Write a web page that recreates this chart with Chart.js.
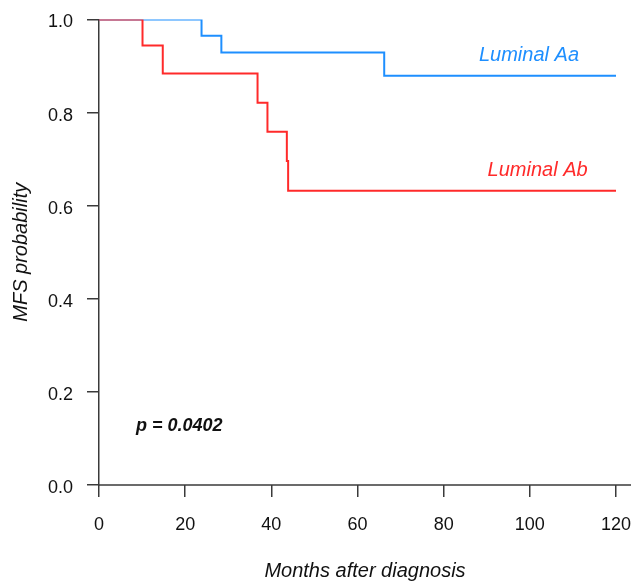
<!DOCTYPE html>
<html>
<head>
<meta charset="utf-8">
<script src="https://cdn.jsdelivr.net/npm/chart.js@4/dist/chart.umd.min.js"></script>
<style>
  html, body { margin: 0; padding: 0; background: #ffffff; }
  #c { display: block; }
</style>
</head>
<body>
<canvas id="c" width="631" height="581"></canvas>
<script>
const aaMonths = [0, 23.8, 28.4, 66.2, 120];
const aaSurvival = [1.0, 0.965, 0.929, 0.879, 0.879];

const abMonths = [0, 10.1, 14.8, 36.8, 39.1, 43.6, 43.9, 120];
const abSurvival = [1.0, 0.944, 0.884, 0.821, 0.759, 0.696, 0.632, 0.632];

const xTicks = [0, 20, 40, 60, 80, 100, 120];
const yTicks = [0.0, 0.2, 0.4, 0.6, 0.8, 1.0];

const seriesNames = ['Luminal Aa', 'Luminal Ab'];
const xTitle = 'Months after diagnosis';
const yTitle = 'MFS probability';
const pValueText = 'p = 0.0402';

// ---- Styles ----
const FONT = '"Liberation Sans", Arial, Helvetica, sans-serif';
const BLUE = '#1E8FFF';
const RED = '#FF2A2A';
const AXIS = '#3a3a3a';

const toPoints = (xs, ys) => xs.map((x, i) => ({ x: x, y: ys[i] }));

const annotate = {
  id: 'annotate',
  afterDatasetsDraw(chart) {
    const { ctx } = chart;
    const xs = chart.scales.x, ys = chart.scales.y;
    ctx.save();
    // extended x axis line
    ctx.strokeStyle = AXIS;
    ctx.lineWidth = 1.5;
    ctx.beginPath();
    const y0 = ys.getPixelForValue(0);
    ctx.moveTo(xs.getPixelForValue(0), y0);
    ctx.lineTo(chart.width, y0);
    ctx.stroke();

    // series labels
    ctx.font = 'italic 20px ' + FONT;
    ctx.textAlign = 'center';
    ctx.textBaseline = 'alphabetic';
    ctx.fillStyle = BLUE;
    ctx.fillText(seriesNames[0], xs.getPixelForValue(99.8), ys.getPixelForValue(0.911));
    ctx.fillStyle = RED;
    ctx.fillText(seriesNames[1], xs.getPixelForValue(101.8), ys.getPixelForValue(0.664));

    // p-value
    ctx.font = 'italic bold 18px ' + FONT;
    ctx.textAlign = 'left';
    ctx.fillStyle = '#111111';
    ctx.fillText(pValueText, xs.getPixelForValue(8.6), ys.getPixelForValue(0.117));

    // x axis title
    ctx.font = 'italic 20px ' + FONT;
    ctx.textAlign = 'center';
    ctx.fillStyle = '#111111';
    ctx.fillText(xTitle, 365, 577);
    ctx.restore();
  }
};

new Chart(document.getElementById('c'), {
  type: 'line',
  data: {
    datasets: [
      {
        label: seriesNames[1],
        data: toPoints(abMonths, abSurvival),
        borderColor: RED,
        borderWidth: 2,
        stepped: 'before',
        pointRadius: 0,
        fill: false
      },
      {
        label: seriesNames[0],
        data: toPoints(aaMonths, aaSurvival),
        borderColor: BLUE,
        borderWidth: 2,
        stepped: 'before',
        pointRadius: 0,
        fill: false
      }
    ]
  },
  options: {
    responsive: false,
    animation: false,
    layout: { padding: { top: 19.5, right: 15, bottom: 0, left: 0 } },
    plugins: {
      legend: { display: false },
      tooltip: { enabled: false },
      title: { display: false }
    },
    scales: {
      x: {
        type: 'linear',
        min: 0,
        max: 120,
        afterBuildTicks: (s) => { s.ticks = xTicks.map(v => ({ value: v })); },
        afterFit: (s) => {
          s.height = 96;
          s.paddingLeft = 0; s.paddingRight = 0;
        },
        border: { display: false },
        grid: {
          drawOnChartArea: false,
          drawTicks: true,
          tickLength: 12,
          color: AXIS,
          lineWidth: 1.5
        },
        ticks: {
          color: '#111111',
          font: { family: FONT, size: 18 },
          padding: 17,
          maxRotation: 0,
          callback: (v) => String(v)
        }
      },
      y: {
        type: 'linear',
        min: 0,
        max: 1,
        afterBuildTicks: (s) => { s.ticks = yTicks.map(v => ({ value: v })); },
        afterFit: (s) => {
          s.width = 99;
          s.paddingTop = 0; s.paddingBottom = 0;
        },
        border: { display: true, color: AXIS, width: 1.5 },
        grid: {
          drawOnChartArea: false,
          drawTicks: true,
          tickLength: 12,
          color: AXIS,
          lineWidth: 1.5
        },
        ticks: {
          color: '#111111',
          font: { family: FONT, size: 18 },
          padding: 14,
          labelOffset: 3,
          callback: (v) => Number(v).toFixed(1)
        },
        title: {
          display: true,
          text: yTitle,
          color: '#111111',
          font: { family: FONT, size: 20, style: 'italic', lineHeight: 1.0 },
          padding: { top: 11, bottom: 0 }
        }
      }
    }
  },
  plugins: [annotate]
});
</script>
</body>
</html>
